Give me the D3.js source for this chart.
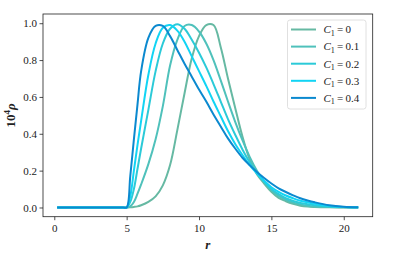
<!DOCTYPE html>
<html>
<head>
<meta charset="utf-8">
<script src="https://cdn.jsdelivr.net/npm/d3@7"></script>
<style>
  body { margin: 0; background: #fff; }
  text { font-family: "Liberation Serif", "Times New Roman", serif; }
</style>
</head>
<body>
<div class="chart"></div>
<script>
const width = 416;
const height = 257;
const margin = { top: 14, right: 43.3, bottom: 40.3, left: 43 };

// r grid shared by all curves
const rValues = [0.2, 4.75, 5, 5.25, 5.5, 5.75, 6, 6.5, 7, 7.5, 8, 8.5, 9, 9.5, 10, 10.5, 11, 11.5,
  12, 12.5, 13, 13.5, 14, 14.5, 15, 15.5, 16, 16.5, 17, 17.5, 18, 19, 20, 21];

const seriesNames = ['0', '0.1', '0.2', '0.3', '0.4'];
const seriesColors = ['#66b9a3', '#4fc1bb', '#2bcad8', '#12d4f4', '#0b89cf'];

const rho0 = [0, 0, 0, 0.001, 0.003, 0.006, 0.012, 0.03, 0.06, 0.12, 0.23, 0.42, 0.62, 0.81, 0.93, 0.99, 0.99, 0.87,
  0.7, 0.54, 0.385, 0.26, 0.18, 0.13, 0.085, 0.052, 0.034, 0.02, 0.01, 0.005, 0.003, 0.001, 0, 0];
const rho1 = [0, 0, 0, 0.006, 0.03, 0.075, 0.125, 0.235, 0.37, 0.55, 0.77, 0.91, 0.985, 0.99, 0.955, 0.89, 0.8, 0.69,
  0.575, 0.465, 0.365, 0.275, 0.2, 0.14, 0.095, 0.063, 0.042, 0.027, 0.017, 0.01, 0.006, 0.002, 0.001, 0];
const rho2 = [0, 0, 0, 0.03, 0.1, 0.21, 0.32, 0.53, 0.74, 0.89, 0.97, 0.995, 0.97, 0.91, 0.84, 0.76, 0.67, 0.575,
  0.48, 0.395, 0.315, 0.245, 0.185, 0.14, 0.1, 0.072, 0.05, 0.035, 0.024, 0.017, 0.012, 0.005, 0.002, 0];
const rho3 = [0, 0, 0, 0.06, 0.2, 0.34, 0.47, 0.72, 0.89, 0.975, 0.99, 0.96, 0.9, 0.82, 0.74, 0.66, 0.575, 0.495,
  0.415, 0.345, 0.285, 0.23, 0.185, 0.145, 0.11, 0.085, 0.065, 0.05, 0.037, 0.028, 0.02, 0.008, 0.003, 0.001];
const rho4 = [0, 0, 0, 0.17, 0.37, 0.56, 0.74, 0.92, 0.985, 0.985, 0.93, 0.855, 0.78, 0.71, 0.64, 0.575, 0.505, 0.44,
  0.375, 0.32, 0.27, 0.23, 0.193, 0.16, 0.13, 0.104, 0.084, 0.066, 0.05, 0.038, 0.028, 0.012, 0.004, 0.001];

const xTicks = [0, 5, 10, 15, 20];
const yTicks = [0, 0.2, 0.4, 0.6, 0.8, 1.0];

const allSeries = [rho0, rho1, rho2, rho3, rho4];

const svg = d3
  .select('.chart')
  .append('svg')
  .attr('width', width)
  .attr('height', height);

const x = d3
  .scaleLinear()
  .domain([-0.78, 22.0])
  .range([margin.left, width - margin.right]);
const y = d3
  .scaleLinear()
  .domain([-0.05, 1.05])
  .range([height - margin.bottom, margin.top]);

// curves
const line = d3
  .line()
  .x(d => x(d[0]))
  .y(d => y(d[1]))
  .curve(d3.curveCatmullRom.alpha(0.5));

svg
  .append('g')
  .selectAll('path')
  .data(allSeries)
  .enter()
  .append('path')
  .attr('d', vals => line(rValues.map((r, i) => [r, vals[i]])))
  .attr('fill', 'none')
  .attr('stroke', (d, i) => seriesColors[i])
  .attr('stroke-width', 2)
  .attr('stroke-linejoin', 'round');

// axes
const xAxis = svg
  .append('g')
  .attr('transform', `translate(0, ${height - margin.bottom})`)
  .call(d3.axisBottom(x).tickValues(xTicks).tickFormat(d3.format('d')).tickSize(3.5).tickSizeOuter(0));
const yAxis = svg
  .append('g')
  .attr('transform', `translate(${margin.left}, 0)`)
  .call(d3.axisLeft(y).tickValues(yTicks).tickFormat(d3.format('.1f')).tickSize(3.5).tickSizeOuter(0));

[xAxis, yAxis].forEach(a => {
  a.attr('font-family', null);
  a.select('.domain').remove();
  a.selectAll('line').attr('stroke', '#222').attr('stroke-width', 0.8);
  a.selectAll('text')
    .attr('font-size', 11)
    .attr('fill', '#222');
});
xAxis.selectAll('text').attr('dy', '0.95em').attr('y', 5);
yAxis.selectAll('text').attr('x', -6);

// frame
svg
  .append('rect')
  .attr('x', margin.left)
  .attr('y', margin.top)
  .attr('width', width - margin.left - margin.right)
  .attr('height', height - margin.top - margin.bottom)
  .attr('fill', 'none')
  .attr('stroke', '#222')
  .attr('stroke-width', 0.8);

// axis labels
svg
  .append('text')
  .attr('x', (margin.left + width - margin.right) / 2)
  .attr('y', 249)
  .attr('text-anchor', 'middle')
  .attr('font-size', 13)
  .attr('font-style', 'italic')
  .attr('font-weight', 'bold')
  .attr('fill', '#222')
  .text('r');

const yLabel = svg
  .append('text')
  .attr('transform', `translate(15, ${(margin.top + height - margin.bottom) / 2}) rotate(-90)`)
  .attr('text-anchor', 'middle')
  .attr('font-size', 13)
  .attr('font-weight', 'bold')
  .attr('fill', '#222');
yLabel.append('tspan').text('10');
yLabel.append('tspan').attr('dy', -5).attr('font-size', 9).text('4');
yLabel.append('tspan').attr('dy', 5).attr('font-style', 'italic').text('ρ');

// legend
const legend = svg.append('g').attr('transform', 'translate(287.5, 20)');
legend
  .append('rect')
  .attr('width', 78.5)
  .attr('height', 89)
  .attr('rx', 2.5)
  .attr('fill', '#fff')
  .attr('fill-opacity', 0.8)
  .attr('stroke', '#d8d8d8')
  .attr('stroke-width', 0.8);

const rows = legend
  .selectAll('.row')
  .data(seriesNames)
  .enter()
  .append('g')
  .attr('class', 'row')
  .attr('transform', (d, i) => `translate(0, ${9.5 + i * 17.1})`);
rows
  .append('line')
  .attr('x1', 3.5)
  .attr('x2', 28.5)
  .attr('stroke', (d, i) => seriesColors[i])
  .attr('stroke-width', 2);
const lt = rows
  .append('text')
  .attr('x', 36)
  .attr('dy', '0.35em')
  .attr('font-size', 11)
  .attr('fill', '#222');
lt.append('tspan').attr('font-style', 'italic').text('C');
lt.append('tspan').attr('font-size', 8).attr('dy', 2.5).text('1');
lt.append('tspan').attr('dy', -2.5).text(d => '\u2009=\u2009' + d);
</script>
</body>
</html>
